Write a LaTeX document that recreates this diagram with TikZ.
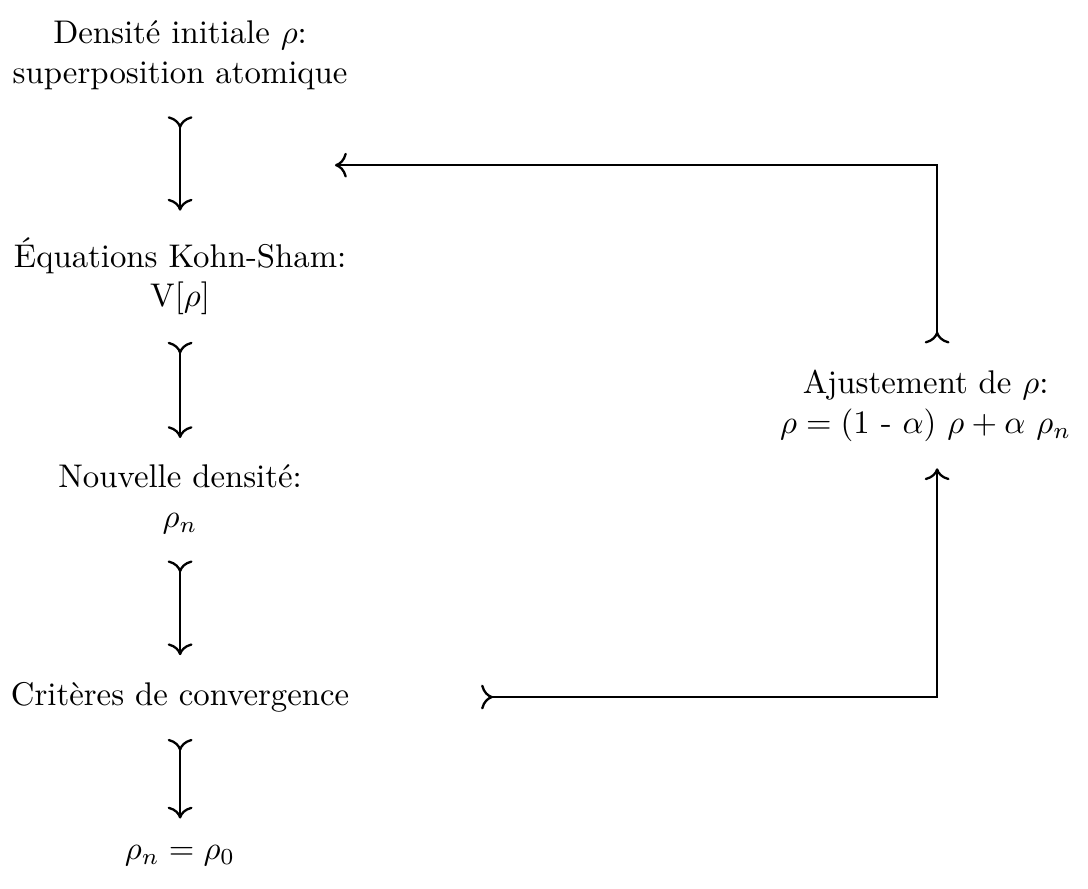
\documentclass[tikz,border=0pt]{standalone}
\usepackage{amsmath}
\usepackage{amssymb}
\usepackage{tikz}
\usetikzlibrary{arrows.meta}

\begin{document}
\begin{tikzpicture}[etape/.style={align=center, inner sep=8pt},
                    fleche/.style={{To[reversed, scale=1.15]}-{To[scale=1.15]}, line width=0.7pt}]
        \useasboundingbox (0,0) rectangle (11.66,-9.52);
        \draw (1.93,-0.59) node[etape](init) {Densité initiale $\rho$:\\superposition atomique};
        \draw (1.93,-2.96) node[etape](ks) {Équations Kohn-Sham:\\V[$\rho$]};
        \draw (1.93,-5.35) node[etape](dens) {Nouvelle densité:\\$\rho_n$};
        \draw (1.93,-7.47) node[etape](crit) {Critères de convergence};
        \draw (1.93,-9.17) node[etape](fin) {$\rho_n = \rho_0$};
        \draw (9.92,-4.35) node[etape](ajust) {Ajustement de $\rho$:\\$\rho = (1$ - $\alpha)\ \rho + \alpha\ \rho_n$};
        \coordinate (retour) at (3.59,-1.77);
        \draw[fleche] (init) -- (ks);
        \draw[fleche] (ks) -- (dens);
        \draw[fleche] (dens) -- (crit);
        \draw[fleche] (crit) -- (fin);
        \draw[fleche, shorten <=32pt] (crit) -| ([xshift=3.5pt]ajust.south);
        \draw[fleche] ([xshift=3.5pt]ajust.north) |- (retour);
    \end{tikzpicture}
\end{document}
